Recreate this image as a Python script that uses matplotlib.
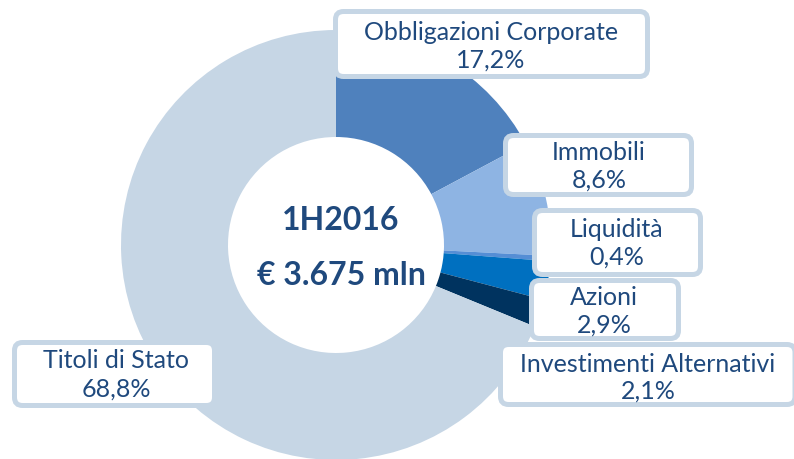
import matplotlib
matplotlib.use("Agg")
import matplotlib.pyplot as plt
from matplotlib.patches import FancyBboxPatch

# ---- data ----
categories = ["Obbligazioni Corporate", "Immobili", "Liquidità", "Azioni",
              "Investimenti Alternativi", "Titoli di Stato"]
shares = [17.2, 8.6, 0.4, 2.9, 2.1, 68.8]
center_title = "1H2016"
center_total = "€ 3.675 mln"

# ---- styles ----
slice_colors = ["#4F81BD", "#8EB4E3", "#558ED5", "#0070C0", "#00335F", "#C6D6E5"]
text_color = "#1F497D"
box_edge = "#C6D6E5"
W, H = 794, 459

# label boxes in pixel coords (left, top, right, bottom) from top-left origin
boxes = [
    (335.5, 11.5, 647.5, 76.5),
    (505.5, 135.5, 691.5, 194.5),
    (534.5, 210.5, 700.5, 274.5),
    (531.5, 280.5, 678.5, 338.5),
    (500.5, 344.5, 795.0, 404.5),
    (14.5, 342.5, 214.5, 405.5),
]
# text anchor (x center, baseline line1, baseline line2)
text_pos = [
    (491, 40, 68),
    (599, 160, 188),
    (617, 237, 265),
    (604, 305, 333),
    (648, 372, 399),
    (116, 368, 397),
]

fig = plt.figure(figsize=(W / 100, H / 100), dpi=100)
ax = fig.add_axes([0, 0, 1, 1])

cx, cy, r_out, r_in = 336, 245, 215, 108
ax.pie(shares, colors=slice_colors, startangle=90, counterclock=False,
       radius=r_out, center=(cx, H - cy),
       wedgeprops=dict(width=r_out - r_in, linewidth=0))
ax.set_xlim(0, W)
ax.set_ylim(0, H)
ax.set_aspect("auto")
ax.axis("off")

for (l, t, r, b), (tx, b1, b2), cat, v in zip(boxes, text_pos, categories, shares):
    patch = FancyBboxPatch((l, H - b), r - l, b - t,
                           boxstyle="round,pad=0,rounding_size=8",
                           fc="white", ec=box_edge, lw=3.6, zorder=5,
                           clip_on=False)
    ax.add_patch(patch)
    ax.text(tx, H - b1, cat, ha="center", va="baseline", fontsize=18,
            family="Lato", color=text_color, zorder=6)
    ax.text(tx, H - b2, f"{v:.1f}%".replace(".", ","), ha="center",
            va="baseline", fontsize=18, family="Lato",
            color=text_color, zorder=6)

ax.text(341, H - 230, center_title, ha="center", va="baseline", fontsize=23,
        family="Lato", weight="bold", color=text_color, zorder=6)
ax.text(341, H - 285, center_total, ha="center", va="baseline", fontsize=23,
        family="Lato", weight="bold", color=text_color, zorder=6)

fig.savefig("out.png", dpi=100)
